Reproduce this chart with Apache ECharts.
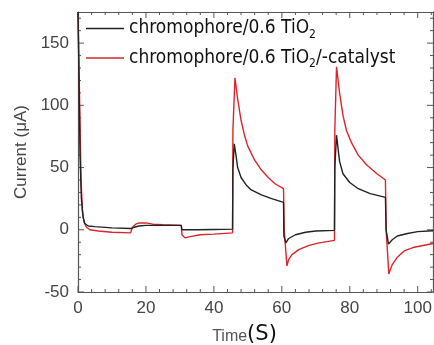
<!DOCTYPE html>
<html>
<head>
<meta charset="utf-8">
<script src="https://cdn.jsdelivr.net/npm/echarts@6/dist/echarts.min.js"></script>
<style>
html,body{margin:0;padding:0;background:#fff;}
#chart{width:434px;height:345px;}
</style>
</head>
<body>
<div id="chart"></div>
<script>
// photocurrent traces (time in s, current in uA)
var blackTime = [0, 0.3, 0.6, 1, 1.5, 2, 3, 5, 10, 15.5, 16.5, 18, 20, 25, 30.4, 30.6, 35, 40, 45.5, 45.6, 46, 46.5, 47, 48, 49.5, 51, 54, 57, 60.5,
    60.6, 61.2, 62, 64, 67, 70, 75.5, 75.6, 76.1, 77, 78, 80, 82.5, 86, 90.5, 90.7, 91.4, 92.5, 94, 97, 100, 104.5];
var blackCurrent = [175, 120, 60, 25, 10, 5, 3, 2.5, 1.5, 1, 2, 3, 3.5, 3.5, 3.5, 0, 0, 0.2, 0.5, 50, 69, 60, 50, 42, 36, 32, 28, 25, 22,
    -5, -10.5, -7, -4, -2, -1, -0.5, 50, 76, 55, 45, 38, 33, 29, 26, 0, -11.5, -8, -5, -3, -1.5, -0.8];

var redTime = [0, 0.1, 0.5, 0.9, 1.3, 1.8, 2.5, 3.5, 6, 10, 15.5, 16, 17, 18, 20, 22, 25, 30.4, 30.6, 31.5, 33, 36, 40, 45.5,
    45.6, 46.2, 47, 48, 49, 50, 52, 54, 56, 58, 60.5, 60.7, 61.5, 62, 63, 65, 68, 71, 75.5,
    75.6, 76.1, 77, 78, 79, 80.5, 82.5, 85, 88, 90.5, 90.7, 91.5, 92.5, 94, 96, 99, 104.5];
var redCurrent = [175, 175, 100, 40, 15, 6, 2, 0, -1, -2, -2.5, 2, 4.5, 5.5, 5.5, 4.5, 4, 3.5, -4, -6.5, -5.5, -4, -3.5, -2.5,
    80, 122, 105, 88, 76, 67, 56, 48, 42, 37, 33, 0, -29, -24, -20, -16, -12.5, -10.5, -8.5,
    80, 131, 110, 92, 80, 70, 60, 52, 45, 40, 0, -35.5, -28, -22, -17, -14, -11];

// frame tick marks (major every 20 s / 50 uA, minor in between)
var xTickValues = [0, 4, 8, 12, 16, 20, 24, 28, 32, 36, 40, 44, 48, 52, 56, 60, 64, 68, 72, 76, 80, 84, 88, 92, 96, 100, 104];
var yTickValues = [-50, -40, -30, -20, -10, 0, 10, 20, 30, 40, 50, 60, 70, 80, 90, 100, 110, 120, 130, 140, 150, 160, 170];
var xTickStep = 20;
var yTickStep = 50;
var xMin = 0, xMax = 104.5, yMin = -50, yMax = 175;

function zip(t, v) {
    return t.map(function (x, i) { return [x, v[i]]; });
}

var chart = echarts.init(document.getElementById('chart'));
var axisColor = '#555';
var lbl = { fontFamily: 'Liberation Sans, Arial', fontSize: 17, color: '#444' };

function frameAxis(extra) {
    return Object.assign({
        type: 'value',
        axisLine: { show: true, onZero: false, lineStyle: { color: axisColor, width: 1.2 } },
        axisTick: { show: false },
        minorTick: { show: false },
        splitLine: { show: false }
    }, extra);
}

// inward ticks on both opposite sides of the box
function tickSeries(values, isX) {
    return {
        type: 'custom',
        silent: true,
        clip: false,
        z: 1,
        data: values.map(function (v) { return isX ? [v, 0] : [0, v]; }),
        renderItem: function (params, api) {
            var v = api.value(isX ? 0 : 1);
            var major = isX ? v % xTickStep === 0 : v % yTickStep === 0;
            var len = major ? 6 : 3;
            var a, b, lines;
            if (isX) {
                a = api.coord([v, yMin]);
                b = api.coord([v, yMax]);
                lines = [[a[0], a[1], a[0], a[1] - len], [b[0], b[1], b[0], b[1] + len]];
            } else {
                a = api.coord([xMin, v]);
                b = api.coord([xMax, v]);
                lines = [[a[0], a[1], a[0] + len, a[1]], [b[0], b[1], b[0] - len, b[1]]];
            }
            return {
                type: 'group',
                children: lines.map(function (l) {
                    return {
                        type: 'line',
                        shape: { x1: l[0], y1: l[1], x2: l[2], y2: l[3] },
                        style: { stroke: axisColor, lineWidth: 1 }
                    };
                })
            };
        }
    };
}

var option = {
    animation: false,
    grid: { left: 78, top: 12, right: 1, bottom: 53, outerBoundsMode: 'none' },
    legend: {
        orient: 'vertical',
        left: 86,
        top: 19,
        padding: 0,
        icon: 'rect',
        itemWidth: 38,
        itemHeight: 1.6,
        itemGap: 8,
        data: ['chromophore/0.6 TiO2', 'chromophore/0.6 TiO2/-catalyst'],
        formatter: function (name) {
            var p = name.split('TiO2');
            return '{t|' + p[0] + 'TiO}{s|2}' + (p[1] ? '{t|' + p[1] + '}' : '');
        },
        textStyle: {
            rich: {
                t: { fontFamily: 'DejaVu Sans Condensed', fontSize: 19, color: '#111' },
                s: { fontFamily: 'DejaVu Sans Condensed', fontSize: 12, color: '#111', padding: [12, 0, 0, 0] }
            }
        }
    },
    xAxis: [frameAxis({
        min: xMin, max: xMax, interval: xTickStep,
        axisLabel: Object.assign({
            margin: 8,
            formatter: function (v) { return v % xTickStep === 0 ? String(v) : ''; }
        }, lbl),
        name: '{a|Time}{b|(S)}',
        nameLocation: 'middle',
        nameGap: 32,
        nameTextStyle: {
            padding: [0, 22, 0, 0],
            rich: {
                a: { fontFamily: 'Liberation Sans, Arial', fontSize: 16, color: '#555', padding: [5, 0, 0, 0] },
                b: { fontFamily: 'DejaVu Sans', fontSize: 21, color: '#111' }
            }
        }
    }), frameAxis({ min: xMin, max: xMax, interval: xTickStep, position: 'top', axisLabel: { show: false } })],
    yAxis: [frameAxis({
        min: yMin, max: yMax, interval: yTickStep,
        axisLabel: Object.assign({
            margin: 9,
            formatter: function (v) { return v % yTickStep === 0 ? String(v) : ''; }
        }, lbl),
        name: 'Current (\u03bcA)',
        nameLocation: 'middle',
        nameGap: 47,
        nameTextStyle: { fontFamily: 'Liberation Sans, Arial', fontSize: 17, color: '#444' }
    }), frameAxis({ min: yMin, max: yMax, interval: yTickStep, position: 'right', axisLabel: { show: false } })],
    series: [{
        name: 'chromophore/0.6 TiO2',
        type: 'line',
        symbol: 'none',
        z: 3,
        lineStyle: { color: '#222', width: 1.4 },
        itemStyle: { color: '#222' },
        data: zip(blackTime, blackCurrent)
    }, {
        name: 'chromophore/0.6 TiO2/-catalyst',
        type: 'line',
        symbol: 'none',
        z: 2,
        lineStyle: { color: '#d9262a', width: 1.4 },
        itemStyle: { color: '#d9262a' },
        data: zip(redTime, redCurrent)
    }, tickSeries(xTickValues, true), tickSeries(yTickValues, false)]
};
chart.setOption(option);
</script>
</body>
</html>
